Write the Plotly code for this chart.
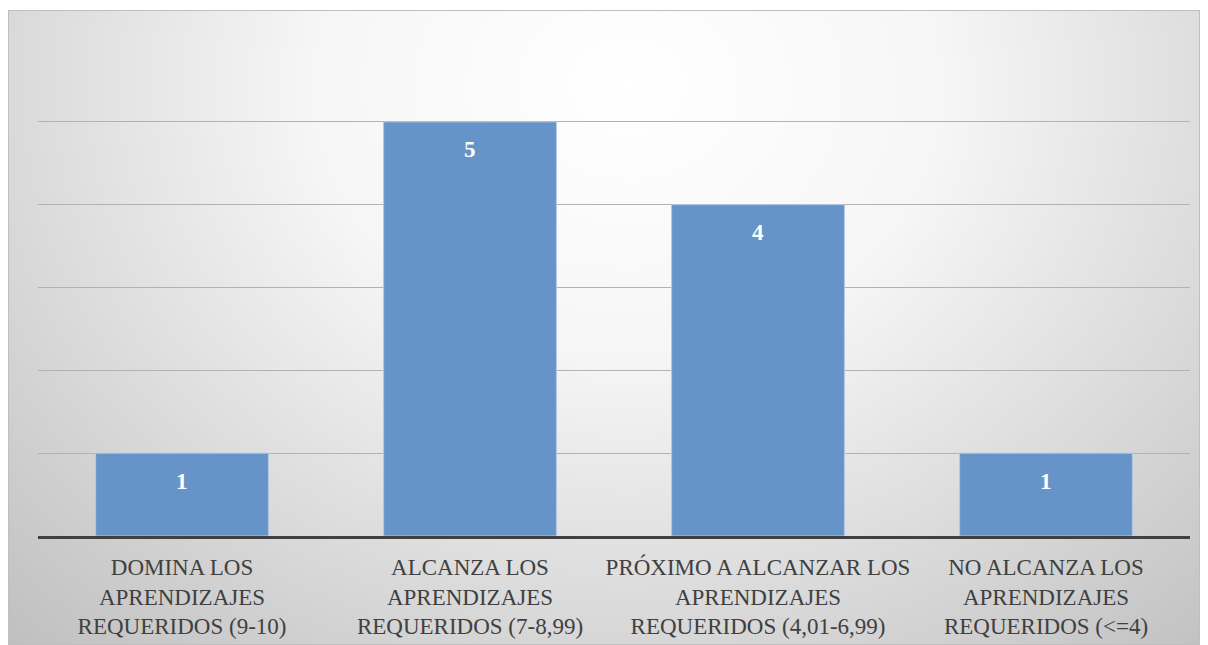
import base64
import plotly.graph_objects as go

categories = [
    "DOMINA LOS<br>APRENDIZAJES<br>REQUERIDOS (9-10)",
    "ALCANZA LOS<br>APRENDIZAJES<br>REQUERIDOS (7-8,99)",
    "PRÓXIMO A ALCANZAR LOS<br>APRENDIZAJES<br>REQUERIDOS (4,01-6,99)",
    "NO ALCANZA LOS<br>APRENDIZAJES<br>REQUERIDOS (<=4)",
]
values = [1, 5, 4, 1]

W, H = 1192, 637
ml, mr, mt, mb = 30, 10, 31, 109
pw, ph = W - ml - mr, H - mt - mb

svg = (
    '<svg xmlns="http://www.w3.org/2000/svg" width="1192" height="635" preserveAspectRatio="none" viewBox="0 0 1192 635">'
    '<defs><radialGradient id="g" cx="0.52" cy="0.12" r="0.75" gradientUnits="objectBoundingBox" '
    'gradientTransform="translate(0.52 0.12) scale(1 1.6) translate(-0.52 -0.12)">'
    '<stop offset="0" stop-color="#ffffff"/><stop offset="0.35" stop-color="#f6f6f6"/>'
    '<stop offset="1" stop-color="#c0c0c0"/></radialGradient></defs>'
    '<rect x="0" y="0" width="1192" height="635" fill="url(#g)" stroke="#bfbfbf" stroke-width="2"/></svg>'
)
src = "data:image/svg+xml;base64," + base64.b64encode(svg.encode()).decode()

font = "Liberation Serif, DejaVu Serif, serif"

fig = go.Figure(
    go.Bar(
        x=categories,
        y=values,
        marker=dict(color="#6794c8", line=dict(color="#b4c8e4", width=1)),
        hoverinfo="skip",
    )
)

for c, v in zip(categories, values):
    fig.add_annotation(
        x=c, y=v, text=str(v), showarrow=False, yanchor="middle", yshift=-28,
        font=dict(family=font, size=23, color="white", weight="bold"),
    )

fig.add_layout_image(
    dict(
        source=src,
        xref="paper", yref="paper",
        x=(0 - ml) / pw, y=(mt + ph - 2) / ph,
        sizex=1192 / pw, sizey=635 / ph,
        sizing="stretch", xanchor="left", yanchor="top",
        layer="below",
    )
)

fig.update_layout(
    width=W, height=H,
    margin=dict(l=ml, r=mr, t=mt, b=mb, autoexpand=False),
    paper_bgcolor="white",
    plot_bgcolor="rgba(0,0,0,0)",
    bargap=0.4,
    showlegend=False,
    font=dict(family=font, size=23, color="#404040"),
    xaxis=dict(
        showgrid=False, showline=True, linecolor="#404040", linewidth=3,
        ticks="", ticklabelstandoff=8, automargin=False,
        tickfont=dict(family=font, size=23, color="#404040"),
    ),
    yaxis=dict(
        range=[0, 6], dtick=1, showgrid=True, gridcolor="#b2b2b2", gridwidth=1,
        showticklabels=False, zeroline=False, showline=False, fixedrange=True,
        automargin=False,
    ),
)

fig.write_html("out.html")
